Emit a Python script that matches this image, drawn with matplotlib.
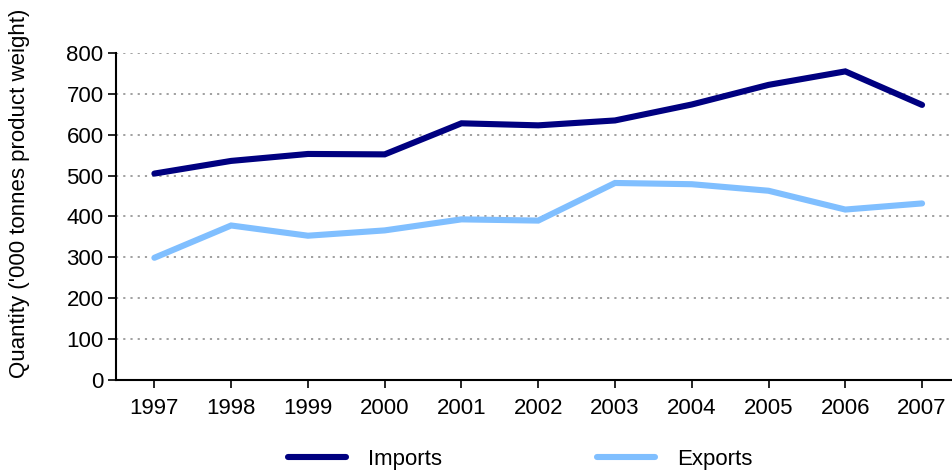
#!/usr/bin/env python3

# Line chart of annual import and export quantities, 1997-2007.

import matplotlib
matplotlib.use('agg')
import matplotlib.pyplot as plt

years = [1997, 1998, 1999, 2000, 2001, 2002, 2003, 2004, 2005, 2006, 2007]
imports = [505, 536, 553, 552, 628, 623, 635, 674, 722, 755, 673]
exports = [299, 378, 353, 366, 393, 390, 482, 479, 463, 417, 432]
yticks = [0, 100, 200, 300, 400, 500, 600, 700, 800]

plt.rcParams['font.family'] = ['Liberation Sans', 'DejaVu Sans']

fig = plt.figure(figsize=(9.52, 4.72), dpi=100)
ax = fig.add_axes([116 / 952, 1 - 380 / 472, 1 - 116 / 952, (380 - 53) / 472])

ax.plot(years, imports, color='#000080', lw=4.4, solid_capstyle='round',
        solid_joinstyle='miter', label='Imports', zorder=3)
ax.plot(years, exports, color='#80bfff', lw=4.4, solid_capstyle='round',
        solid_joinstyle='miter', label='Exports', zorder=3)

ax.set_xlim(1996.5, 2007.39)
ax.set_ylim(0, 800)
ax.set_xticks(years)
ax.set_yticks(yticks)
ax.yaxis.grid(True, color='#999999', linestyle=(0, (1.2, 2.8)), lw=1.3)
ax.set_axisbelow(True)

for side in ['top', 'right']:
    ax.spines[side].set_visible(False)
for side in ['left', 'bottom']:
    ax.spines[side].set_linewidth(1.5)

ax.tick_params(axis='both', labelsize=16, width=1.2, length=6, direction='out')
ax.tick_params(axis='x', pad=7)
ax.tick_params(axis='y', pad=3)

# axis title sits a little above the axes centre
fig.text(20 / 952, 1 - 193 / 472, "Quantity ('000 tonnes product weight)",
         fontsize=16, rotation=90, ha='center', va='center')

fig.legend(loc='center', bbox_to_anchor=(520 / 952, 1 - 459 / 472), ncol=2,
           frameon=False, fontsize=16, handlelength=2.6, handletextpad=1.0,
           columnspacing=6.98)

fig.savefig('out.png', dpi=100)
